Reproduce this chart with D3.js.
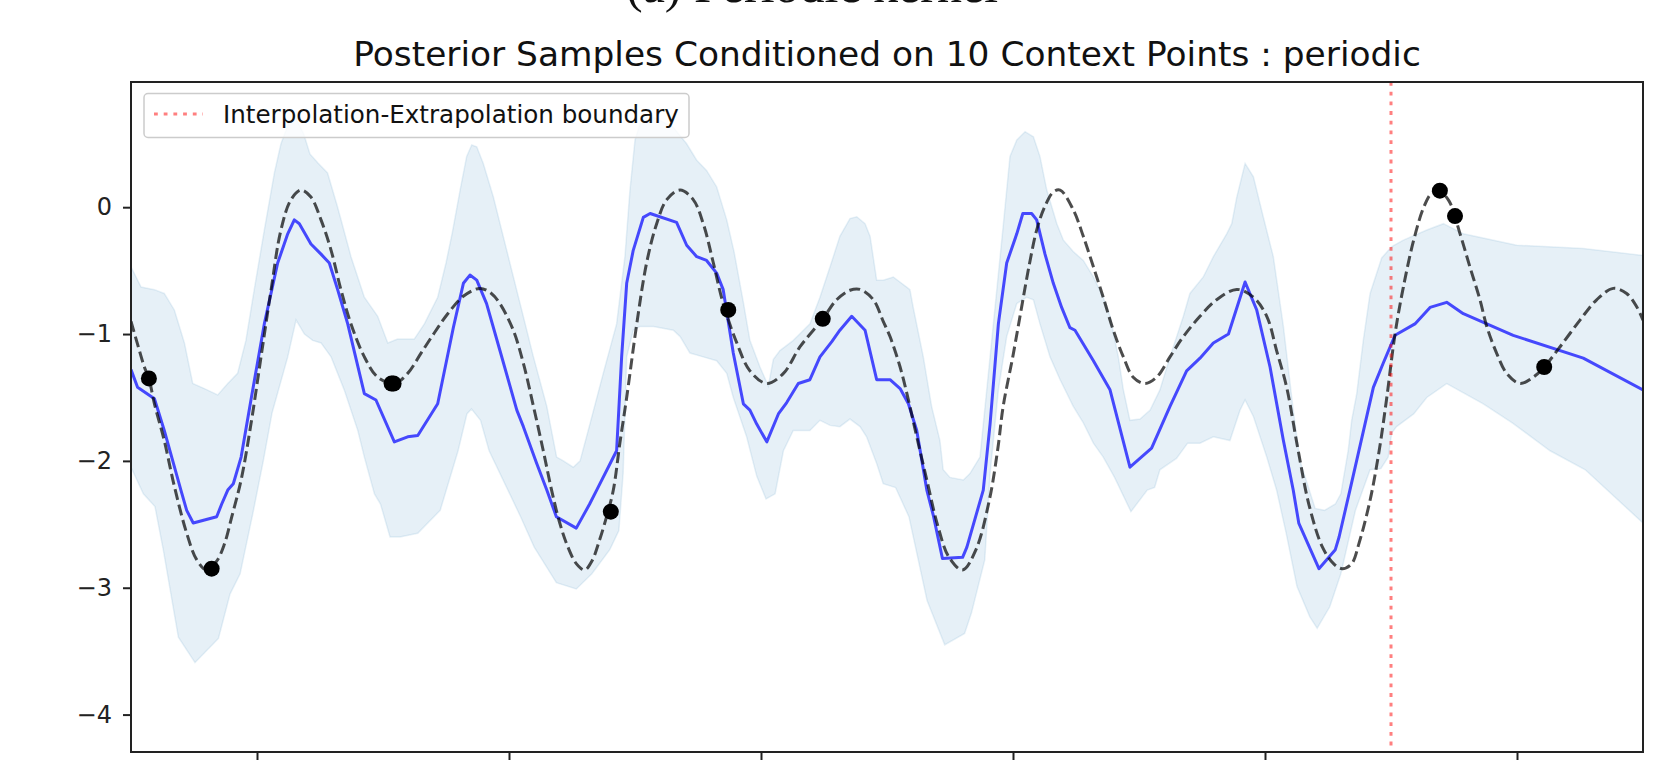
<!DOCTYPE html>
<html>
<head>
<meta charset="utf-8">
<script src="https://cdn.jsdelivr.net/npm/d3@7"></script>
<style>
  body { margin: 0; background: #fff; }
  svg { display: block; font-family: "DejaVu Sans", sans-serif; }
</style>
</head>
<body>
<div id="chart"></div>
<script>
// ---- data ----
const titleText = "Posterior Samples Conditioned on 10 Context Points : periodic";
const legendLabel = "Interpolation-Extrapolation boundary";
const boundaryX = 5.0;

const xTicks = [0.5, 1.5, 2.5, 3.5, 4.5, 5.5];
const yTicks = [0, -1, -2, -3, -4];
const yTickLabels = ["0", "\u22121", "\u22122", "\u22123", "\u22124"];

// context points
const ctxX = [0.071, 0.320, 1.034, 1.042, 1.904, 2.370, 2.745, 5.194, 5.254, 5.608];
const ctxY = [-1.35, -2.85, -1.39, -1.39, -2.40, -0.81, -0.88, 0.13, -0.07, -1.26];

// true function (dashed)
const trueX = [0.000, 0.026, 0.053, 0.071, 0.093, 0.132, 0.172, 0.221, 0.261, 0.300, 0.340, 0.370, 0.400, 0.437, 0.476, 0.516, 0.556, 0.595, 0.635, 0.675,
  0.714, 0.754, 0.794, 0.833, 0.873, 0.926, 0.979, 1.045, 1.098, 1.151, 1.204, 1.257, 1.320, 1.385, 1.430, 1.464, 1.517, 1.557, 1.597, 1.636,
  1.669, 1.700, 1.730, 1.767, 1.800, 1.829, 1.860, 1.890, 1.914, 1.940, 1.967, 2.007, 2.046, 2.086, 2.126, 2.179, 2.231, 2.271, 2.311, 2.350,
  2.404, 2.456, 2.523, 2.589, 2.655, 2.745, 2.800, 2.853, 2.893, 2.946, 2.985, 3.012, 3.052, 3.085, 3.118, 3.158, 3.200, 3.246, 3.300, 3.353,
  3.406, 3.440, 3.461, 3.500, 3.534, 3.565, 3.594, 3.625, 3.660, 3.687, 3.739, 3.779, 3.819, 3.858, 3.898, 3.938, 3.977, 4.024, 4.070, 4.123,
  4.176, 4.242, 4.308, 4.388, 4.454, 4.507, 4.546, 4.586, 4.630, 4.675, 4.728, 4.772, 4.806, 4.844, 4.873, 4.917, 4.953, 4.982, 5.016, 5.049,
  5.090, 5.130, 5.161, 5.190, 5.230, 5.274, 5.313, 5.353, 5.380, 5.419, 5.459, 5.512, 5.565, 5.608, 5.671, 5.750, 5.816, 5.882, 5.935, 5.975, 6.000];
const trueY = [-0.90, -1.08, -1.26, -1.35, -1.55, -1.84, -2.20, -2.57, -2.78, -2.86, -2.79, -2.66, -2.44, -2.15, -1.71, -1.18, -0.65, -0.18, 0.06, 0.135,
  0.08, -0.10, -0.34, -0.65, -0.92, -1.18, -1.34, -1.39, -1.31, -1.15, -0.99, -0.84, -0.70, -0.64, -0.68, -0.76, -0.97, -1.23, -1.57, -1.92,
  -2.23, -2.48, -2.66, -2.81, -2.86, -2.79, -2.62, -2.42, -2.23, -1.86, -1.50, -0.92, -0.44, -0.13, 0.06, 0.135, 0.06, -0.13, -0.44, -0.76,
  -1.07, -1.29, -1.39, -1.31, -1.10, -0.88, -0.73, -0.655, -0.648, -0.73, -0.90, -1.02, -1.26, -1.52, -1.81, -2.15, -2.50, -2.76, -2.86, -2.70,
  -2.31, -1.90, -1.57, -1.17, -0.79, -0.45, -0.18, 0.00, 0.12, 0.135, -0.02, -0.23, -0.47, -0.71, -0.97, -1.18, -1.34, -1.39, -1.34, -1.18,
  -1.02, -0.86, -0.73, -0.648, -0.71, -0.86, -1.13, -1.42, -1.90, -2.35, -2.68, -2.81, -2.85, -2.81, -2.65, -2.31, -1.92, -1.52, -1.00, -0.63,
  -0.26, 0.00, 0.11, 0.13, 0.05, -0.21, -0.47, -0.73, -0.94, -1.15, -1.31, -1.39, -1.34, -1.26, -1.10, -0.89, -0.73, -0.64, -0.68, -0.785, -0.89];

// predicted mean (blue)
const meanX = [0.000, 0.026, 0.093, 0.132, 0.198, 0.221, 0.247, 0.340, 0.360, 0.384, 0.406, 0.437, 0.476, 0.529, 0.582, 0.622, 0.648, 0.668, 0.714, 0.754,
  0.787, 0.820, 0.860, 0.926, 0.972, 1.045, 1.098, 1.138, 1.217, 1.279, 1.319, 1.345, 1.372, 1.411, 1.464, 1.531, 1.557, 1.610, 1.650, 1.688,
  1.767, 1.820, 1.848, 1.927, 1.947, 1.967, 1.993, 2.033, 2.060, 2.165, 2.205, 2.245, 2.284, 2.324, 2.350, 2.390, 2.430, 2.456, 2.483, 2.523,
  2.569, 2.602, 2.648, 2.694, 2.734, 2.781, 2.813, 2.860, 2.913, 2.959, 3.012, 3.052, 3.085, 3.118, 3.158, 3.185, 3.220, 3.300, 3.317, 3.382,
  3.409, 3.442, 3.475, 3.515, 3.539, 3.574, 3.594, 3.627, 3.660, 3.693, 3.726, 3.746, 3.819, 3.885, 3.964, 4.050, 4.123, 4.189, 4.242, 4.295,
  4.355, 4.421, 4.467, 4.520, 4.573, 4.612, 4.634, 4.714, 4.779, 4.794, 4.837, 4.930, 4.969, 5.016, 5.095, 5.155, 5.221, 5.287, 5.485, 5.763, 6.000];
const meanY = [-1.28, -1.42, -1.51, -1.76, -2.23, -2.39, -2.49, -2.44, -2.34, -2.23, -2.18, -1.97, -1.52, -0.92, -0.44, -0.21, -0.10, -0.13, -0.29, -0.37,
  -0.44, -0.65, -0.92, -1.47, -1.52, -1.85, -1.81, -1.80, -1.55, -0.95, -0.60, -0.535, -0.575, -0.76, -1.13, -1.60, -1.73, -2.02, -2.23, -2.44,
  -2.53, -2.34, -2.23, -1.92, -1.18, -0.60, -0.34, -0.08, -0.05, -0.12, -0.30, -0.39, -0.42, -0.52, -0.65, -1.15, -1.55, -1.60, -1.71, -1.85,
  -1.63, -1.54, -1.39, -1.36, -1.18, -1.06, -0.97, -0.86, -0.97, -1.36, -1.36, -1.43, -1.55, -1.76, -2.23, -2.44, -2.77, -2.76, -2.68, -2.23,
  -1.71, -0.92, -0.44, -0.21, -0.05, -0.05, -0.10, -0.37, -0.60, -0.79, -0.95, -0.97, -1.21, -1.44, -2.05, -1.90, -1.57, -1.29, -1.19, -1.07,
  -1.00, -0.59, -0.81, -1.26, -1.84, -2.23, -2.49, -2.85, -2.70, -2.60, -2.23, -1.42, -1.23, -1.01, -0.92, -0.79, -0.75, -0.84, -1.01, -1.19, -1.44];

// uncertainty band, upper edge
const upperX = [0.000, 0.040, 0.093, 0.132, 0.172, 0.212, 0.245, 0.291, 0.344, 0.384, 0.423, 0.456, 0.489, 0.529, 0.569, 0.595, 0.625, 0.655, 0.685, 0.710,
  0.741, 0.780, 0.820, 0.873, 0.926, 0.979, 1.019, 1.058, 1.124, 1.164, 1.217, 1.250, 1.275, 1.306, 1.332, 1.352, 1.372, 1.398, 1.438, 1.491,
  1.544, 1.597, 1.650, 1.689, 1.716, 1.755, 1.782, 1.821, 1.874, 1.927, 1.960, 1.980, 2.000, 2.020, 2.073, 2.152, 2.205, 2.245, 2.284, 2.324,
  2.364, 2.393, 2.430, 2.456, 2.496, 2.529, 2.549, 2.575, 2.628, 2.694, 2.734, 2.774, 2.813, 2.853, 2.880, 2.913, 2.933, 2.959, 2.985, 3.025,
  3.078, 3.091, 3.104, 3.144, 3.177, 3.210, 3.223, 3.250, 3.303, 3.329, 3.369, 3.409, 3.462, 3.488, 3.515, 3.548, 3.581, 3.607, 3.634, 3.674,
  3.700, 3.739, 3.779, 3.819, 3.858, 3.885, 3.918, 3.938, 3.964, 4.004, 4.044, 4.083, 4.123, 4.176, 4.202, 4.255, 4.295, 4.348, 4.368, 4.388,
  4.421, 4.454, 4.493, 4.533, 4.573, 4.612, 4.639, 4.699, 4.736, 4.779, 4.801, 4.830, 4.844, 4.864, 4.890, 4.917, 4.963, 5.003, 5.049, 5.142,
  5.208, 5.287, 5.499, 5.763, 6.000];
const upperY = [-0.47, -0.63, -0.65, -0.68, -0.81, -1.07, -1.39, -1.43, -1.48, -1.39, -1.31, -1.05, -0.65, -0.18, 0.27, 0.50, 0.66, 0.70, 0.58, 0.42,
  0.35, 0.27, 0.00, -0.39, -0.71, -0.86, -1.07, -1.04, -1.04, -0.92, -0.71, -0.44, -0.20, 0.135, 0.40, 0.49, 0.476, 0.345, 0.08, -0.34,
  -0.76, -1.18, -1.57, -1.97, -2.00, -2.05, -2.00, -1.71, -1.31, -0.92, -0.39, 0.135, 0.53, 0.66, 0.71, 0.63, 0.50, 0.37, 0.29, 0.16,
  -0.10, -0.35, -0.75, -1.05, -1.26, -1.41, -1.20, -1.13, -1.05, -0.92, -0.71, -0.47, -0.23, -0.09, -0.075, -0.13, -0.23, -0.575, -0.575, -0.55,
  -0.63, -0.65, -0.79, -1.18, -1.57, -1.84, -2.07, -2.13, -2.15, -2.10, -1.97, -1.18, -0.13, 0.40, 0.53, 0.595, 0.555, 0.40, 0.135, -0.13,
  -0.26, -0.35, -0.42, -0.55, -0.71, -0.86, -1.18, -1.44, -1.68, -1.67, -1.60, -1.44, -1.18, -0.86, -0.68, -0.55, -0.39, -0.21, -0.13, 0.08,
  0.345, 0.24, -0.075, -0.39, -0.94, -1.60, -2.00, -2.375, -2.39, -2.34, -2.26, -1.92, -1.68, -1.47, -1.05, -0.68, -0.40, -0.31, -0.26, -0.18,
  -0.13, -0.21, -0.30, -0.325, -0.38];

// uncertainty band, lower edge
const lowerX = [0.000, 0.049, 0.095, 0.128, 0.188, 0.254, 0.347, 0.393, 0.433, 0.485, 0.525, 0.560, 0.622, 0.655, 0.688, 0.721, 0.754, 0.794, 0.846, 0.900,
  0.926, 0.966, 0.990, 1.028, 1.067, 1.138, 1.227, 1.298, 1.333, 1.351, 1.387, 1.421, 1.546, 1.600, 1.688, 1.767, 1.829, 1.900, 1.936, 1.953,
  1.967, 1.993, 2.020, 2.073, 2.152, 2.179, 2.218, 2.271, 2.324, 2.364, 2.390, 2.443, 2.483, 2.520, 2.556, 2.589, 2.628, 2.694, 2.734, 2.774,
  2.813, 2.853, 2.893, 2.919, 2.959, 2.985, 3.034, 3.087, 3.159, 3.229, 3.308, 3.335, 3.388, 3.409, 3.442, 3.475, 3.515, 3.554, 3.581, 3.607,
  3.647, 3.687, 3.739, 3.779, 3.819, 3.858, 3.903, 3.968, 4.033, 4.062, 4.083, 4.149, 4.193, 4.242, 4.295, 4.361, 4.401, 4.421, 4.454, 4.507,
  4.546, 4.584, 4.627, 4.678, 4.707, 4.757, 4.801, 4.859, 4.917, 4.960, 4.989, 5.003, 5.022, 5.090, 5.142, 5.221, 5.366, 5.481, 5.631, 5.771, 6.000];
const lowerY = [-2.05, -2.26, -2.36, -2.70, -3.39, -3.59, -3.40, -3.05, -2.89, -2.40, -2.00, -1.62, -1.18, -0.89, -1.00, -1.05, -1.07, -1.18, -1.44, -1.76,
  -1.97, -2.26, -2.34, -2.60, -2.60, -2.57, -2.39, -1.92, -1.63, -1.59, -1.68, -1.92, -2.44, -2.68, -2.96, -3.01, -2.89, -2.70, -2.55, -2.10,
  -1.18, -0.97, -0.94, -0.94, -0.97, -1.02, -1.15, -1.18, -1.21, -1.31, -1.50, -1.81, -2.12, -2.30, -2.26, -1.92, -1.76, -1.76, -1.68, -1.72,
  -1.73, -1.67, -1.73, -1.81, -2.02, -2.18, -2.21, -2.44, -3.10, -3.45, -3.36, -3.20, -2.78, -2.10, -1.44, -1.02, -0.76, -0.71, -0.73, -0.92,
  -1.18, -1.36, -1.57, -1.70, -1.86, -1.97, -2.13, -2.40, -2.23, -2.21, -2.07, -1.98, -1.86, -1.86, -1.81, -1.84, -1.60, -1.52, -1.65, -1.97,
  -2.23, -2.57, -2.99, -3.23, -3.32, -3.15, -2.89, -2.39, -2.07, -2.06, -1.97, -1.78, -1.73, -1.63, -1.50, -1.39, -1.55, -1.70, -1.92, -2.07, -2.49];

// ---- layout ----
const width = 1672, height = 768;
const plot = {left: 131, right: 1643, top: 82, bottom: 752};

const svg = d3.select("#chart").append("svg")
    .attr("width", width)
    .attr("height", height);

const x = d3.scaleLinear().domain([0, 6]).range([plot.left, plot.right]);
const y = d3.scaleLinear().domain([-4.295, 0.987]).range([plot.bottom, plot.top]);

// caption of the figure above, mostly cut off by the top edge as in the original
svg.append("text")
    .attr("x", 626).attr("y", 2)
    .style("font-family", "'Liberation Serif', serif")
    .style("font-size", "50px")
    .attr("fill", "#111")
    .text("(a) Periodic kernel");

svg.append("defs").append("clipPath").attr("id", "clip")
  .append("rect")
    .attr("x", plot.left).attr("y", plot.top)
    .attr("width", plot.right - plot.left).attr("height", plot.bottom - plot.top);

const g = svg.append("g").attr("clip-path", "url(#clip)");

// band
const upperPts = upperX.map((d, i) => [d, upperY[i]]);
const lowerPts = lowerX.map((d, i) => [d, lowerY[i]]).reverse();
const bandLine = d3.line().x(d => x(d[0])).y(d => y(d[1]));
g.append("path")
    .attr("d", bandLine(upperPts.concat(lowerPts)) + "Z")
    .attr("fill", "#1f77b4")
    .attr("fill-opacity", 0.11)
    .attr("stroke", "#1f77b4")
    .attr("stroke-opacity", 0.1)
    .attr("stroke-width", 1.5);

// predicted mean
const meanPts = meanX.map((d, i) => [d, meanY[i]]);
g.append("path")
    .attr("d", bandLine(meanPts))
    .attr("fill", "none")
    .attr("stroke", "#0000ff")
    .attr("stroke-opacity", 0.7)
    .attr("stroke-width", 3)
    .attr("stroke-linejoin", "round");

// true function
const truePts = trueX.map((d, i) => [d, trueY[i]]);
const smooth = d3.line().x(d => x(d[0])).y(d => y(d[1])).curve(d3.curveCatmullRom.alpha(0.5));
g.append("path")
    .attr("d", smooth(truePts))
    .attr("fill", "none")
    .attr("stroke", "#000")
    .attr("stroke-opacity", 0.7)
    .attr("stroke-width", 3)
    .attr("stroke-dasharray", "11,4.8");

// context points
g.selectAll("circle.ctx")
    .data(ctxX.map((d, i) => [d, ctxY[i]]))
    .enter().append("circle")
    .attr("class", "ctx")
    .attr("cx", d => x(d[0]))
    .attr("cy", d => y(d[1]))
    .attr("r", 8)
    .attr("fill", "#000");

// boundary
g.append("line")
    .attr("x1", x(boundaryX)).attr("x2", x(boundaryX))
    .attr("y1", plot.top).attr("y2", plot.bottom)
    .attr("stroke", "#ff0000")
    .attr("stroke-opacity", 0.5)
    .attr("stroke-width", 3)
    .attr("stroke-dasharray", "3.8,5.9");

// axes
const xAxis = d3.axisBottom(x).tickValues(xTicks).tickFormat("").tickSize(8);
const yAxis = d3.axisLeft(y).tickValues(yTicks).tickFormat((d, i) => yTickLabels[i]).tickSize(8).tickPadding(11);

const gx = svg.append("g").attr("transform", `translate(0,${plot.bottom})`).call(xAxis);
const gy = svg.append("g").attr("transform", `translate(${plot.left},0)`).call(yAxis);
[gx, gy].forEach(a => {
  a.select(".domain").remove();
  a.selectAll(".tick line").attr("stroke", "#222").attr("stroke-width", 2);
});
gy.selectAll(".tick text")
    .attr("fill", "#222")
    .style("font-family", "'DejaVu Sans', sans-serif")
    .style("font-size", "24px");

// spines
svg.append("rect")
    .attr("x", plot.left).attr("y", plot.top)
    .attr("width", plot.right - plot.left).attr("height", plot.bottom - plot.top)
    .attr("fill", "none")
    .attr("stroke", "#222")
    .attr("stroke-width", 2);

// title
svg.append("text")
    .attr("x", (plot.left + plot.right) / 2)
    .attr("y", 66)
    .attr("text-anchor", "middle")
    .attr("fill", "#111")
    .style("font-size", "34.4px")
    .text(titleText);

// legend
const lg = svg.append("g");
lg.append("rect")
    .attr("x", 144).attr("y", 93.5)
    .attr("width", 545).attr("height", 44)
    .attr("rx", 4)
    .attr("fill", "#fff").attr("fill-opacity", 0.8)
    .attr("stroke", "#cccccc").attr("stroke-width", 1.5);
lg.append("line")
    .attr("x1", 154).attr("x2", 203)
    .attr("y1", 114).attr("y2", 114)
    .attr("stroke", "#ff0000").attr("stroke-opacity", 0.5)
    .attr("stroke-width", 3)
    .attr("stroke-dasharray", "3.8,5.9");
lg.append("text")
    .attr("x", 223).attr("y", 123.3)
    .attr("fill", "#111")
    .style("font-size", "24.6px")
    .text(legendLabel);
</script>
</body>
</html>
